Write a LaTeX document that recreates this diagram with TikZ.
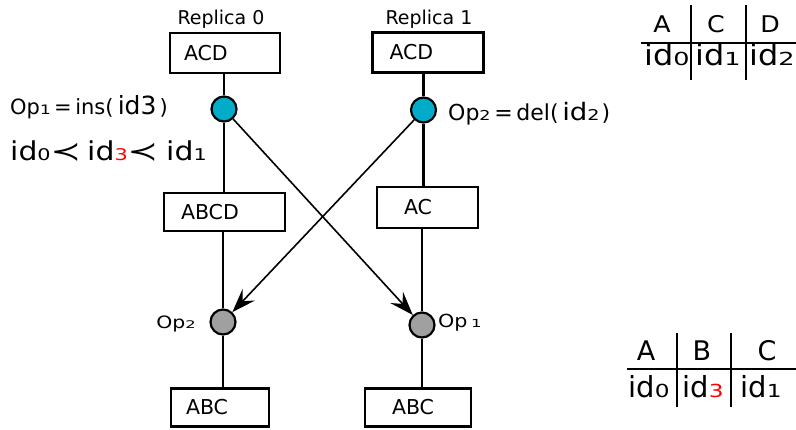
\documentclass[tikz,border=0pt]{standalone}
\usepackage{fontspec}
\setmainfont{DejaVu Sans}
\usetikzlibrary{arrows.meta}
\definecolor{opblue}{RGB}{0,172,200}
\definecolor{opgray}{RGB}{160,160,160}
\newcommand{\sz}[1]{\fontsize{#1}{#1}\selectfont}
\newcommand{\lo}[1]{\scalebox{0.8}[0.62]{#1}}
\newcommand{\wx}[2]{\scalebox{#1}[1]{#2}}

\begin{document}
\begin{tikzpicture}[x=1pt,y=-1pt,>=Stealth,
    state/.style={draw,line width=2.2pt,align=left,font=\sz{20.5}},
    op/.style={circle,draw,line width=2.2pt,minimum size=25pt,inner sep=0pt},
    link/.style={line width=2.2pt},
    msg/.style={line width=1.6pt,-{Stealth[length=24pt,width=17pt,inset=9pt]}},
    rule/.style={line width=2.2pt}]
	\useasboundingbox (0,0) rectangle (796,429);
	% replica 0
	\node[font=\sz{19}] (rep0) at (221,19) {Replica 0};
	\node[state,inner xsep=14pt,text width=82pt,minimum height=40pt] (s00) at (225,53) {ACD};
	\node[op,fill=opblue] (o00) at (224,109) {};
	\node[state,inner xsep=17pt,text width=87pt,minimum height=38pt] (s01) at (224.5,212) {ABCD};
	\node[op,fill=opgray] (o01) at (223,322) {};
	\node[state,inner xsep=15pt,text width=68pt,minimum height=38pt] (s02) at (220,407.5) {ABC};
	% replica 1
	\node[font=\sz{19}] (rep1) at (429,19) {Replica 1};
	\node[state,inner xsep=17pt,text width=77pt,minimum height=40pt] (s10) at (428,52.5) {ACD};
	\node[op,fill=opblue] (o10) at (423.5,110) {};
	\node[state,inner xsep=27pt,text width=47pt,minimum height=41pt] (s11) at (427.5,207.5) {AC};
	\node[op,fill=opgray] (o11) at (422,325) {};
	\node[state,inner xsep=27pt,text width=52pt,minimum height=38pt] (s12) at (418,407.5) {ABC};
	% operations
	\node[anchor=base west,font=\sz{21},inner sep=0pt] (lop1) at (10,114)
		{Op\lo{1}\,=\,ins({\sz{25}\,id3}\hspace{3pt})};
	\node[anchor=base west,font=\sz{26},inner sep=0pt] (ord) at (10,160)
		{\wx{1.15}{id}\lo{0}\wx{1.4}{≺}\hspace{6pt}\wx{1.15}{id}\textcolor{red}{\lo{3}}\wx{1.4}{≺}\hspace{8pt}\wx{1.15}{id}\lo{1}};
	\node[anchor=base west,font=\sz{22},inner sep=0pt] (lop2) at (448,120)
		{Op\lo{2}\,=\,del(\,{\sz{24}\wx{1.15}{id}\lo{2}}\hspace{2pt})};
	\node[anchor=base east,font=\sz{17},inner sep=0pt] (lr0) at (196,328) {\wx{1.2}{Op\lo{2}}};
	\node[anchor=base west,font=\sz{18},inner sep=0pt] (lr1) at (438,327) {\wx{1.15}{Op\,\lo{1}}};
	% vertical links
	\draw[link] (s00.south -| o00) -- (o00);
	\draw[link] (o00) -- (o00 |- s01.north);
	\draw[link] (s01.south -| o01) -- (o01);
	\draw[link] (o01) -- (o01 |- s02.north);
	\draw[link] (s10.south -| o10) -- (o10);
	\draw[link] (o10) -- (o10 |- s11.north);
	\draw[link] (s11.south -| o11) -- (o11);
	\draw[link] (o11) -- (o11 |- s12.north);
	% messages
	\draw[msg] (o00) -- (o11);
	\draw[msg] (o10) -- (o01);
	% id tables
	\node[anchor=base,font=\sz{23}] (ta) at (662,32) {\wx{1.1}{A}};
	\node[anchor=base,font=\sz{23}] (tc) at (716,32) {\wx{1.1}{C}};
	\node[anchor=base,font=\sz{23}] (td) at (770,32) {\wx{1.1}{D}};
	\node[anchor=base,font=\sz{29}] (ta0) at (667,65) {\wx{1.1}{id\lo{0}}};
	\node[anchor=base,font=\sz{29}] (tc1) at (718,65) {\wx{1.1}{id\lo{1}}};
	\node[anchor=base,font=\sz{29}] (td2) at (772,65) {\wx{1.1}{id\lo{2}}};
	\draw[rule] (641,43) -- (796,43);
	\draw[rule] (691,5) -- (691,80);
	\draw[rule] (746,5) -- (746,80);
	\node[anchor=base,font=\sz{27}] (ba) at (646,360) {A};
	\node[anchor=base,font=\sz{27}] (bb) at (702,360) {B};
	\node[anchor=base,font=\sz{27}] (bc) at (767,360) {C};
	\node[anchor=base,font=\sz{29}] (ba0) at (649,397) {id\lo{0}};
	\node[anchor=base,font=\sz{29}] (bb3) at (703,397) {id\textcolor{red}{\lo{3}}};
	\node[anchor=base,font=\sz{29}] (bc1) at (761,397) {id\lo{1}};
	\draw[rule] (627,369) -- (796,369);
	\draw[rule] (677,333) -- (677,407);
	\draw[rule] (731,333) -- (731,407);
\end{tikzpicture}
\end{document}
